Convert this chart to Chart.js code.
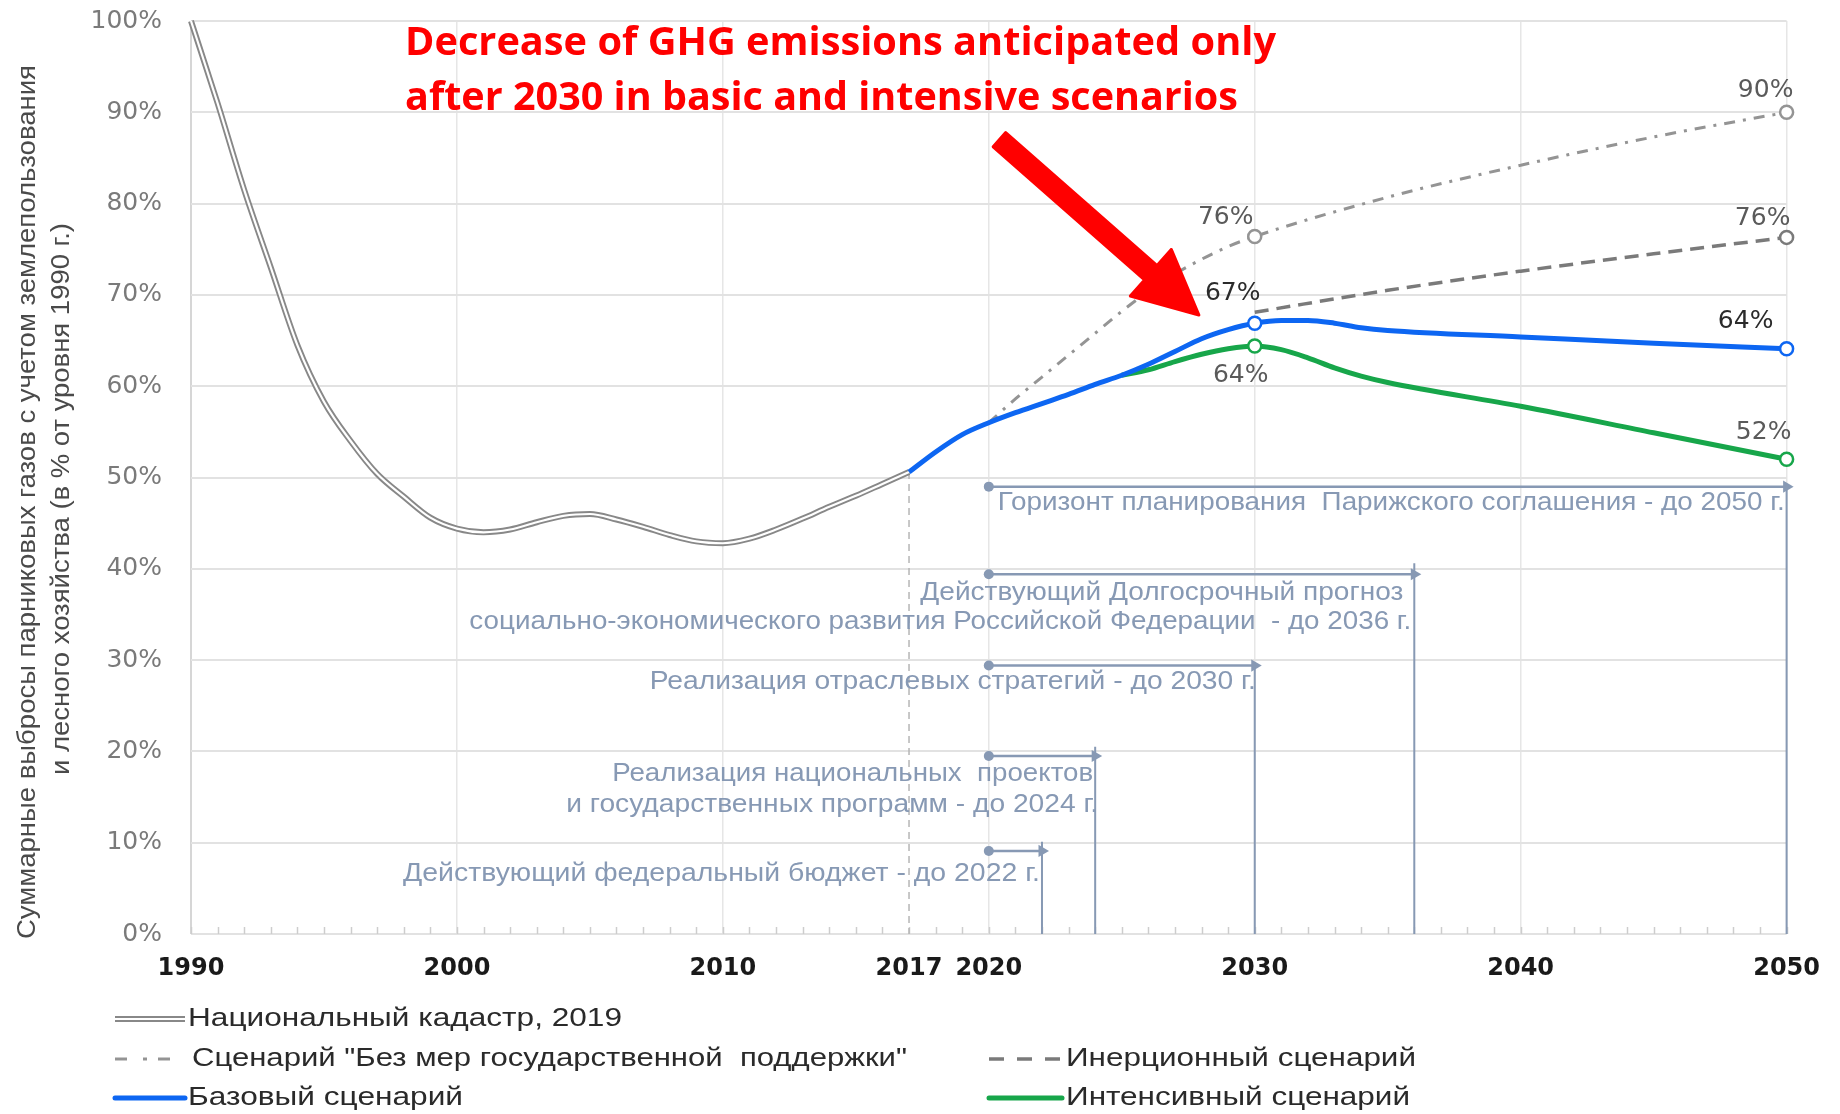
<!DOCTYPE html>
<html lang="ru">
<head>
<meta charset="utf-8">
<title>Суммарные выбросы парниковых газов</title>
<script src="https://cdn.jsdelivr.net/npm/chart.js@4.4.1/dist/chart.umd.min.js"></script>
<style>
  html, body { margin: 0; padding: 0; background: #fff; }
  #grafico { display: block; }
</style>
</head>
<body>
<canvas id="grafico" width="1840" height="1114"></canvas>
<script>
/* Values, % of the 1990 level */

const xTickValues = [1990, 2000, 2010, 2017, 2020, 2030, 2040, 2050];

const cadastreYears = [1990, 1991, 1992, 1993, 1994, 1995, 1996, 1997, 1998, 1999,
  2000, 2001, 2002, 2003, 2004, 2005, 2006, 2007, 2008, 2009,
  2010, 2011, 2012, 2013, 2014, 2015, 2016, 2017];
const cadastreValues = [100, 91.0, 81.5, 73.0, 64.5, 58.3, 54.0, 50.4, 47.9, 45.6,
  44.4, 44.0, 44.3, 45.1, 45.8, 46.0, 45.4, 44.6, 43.7, 43.0,
  42.8, 43.3, 44.3, 45.5, 46.8, 48.0, 49.3, 50.6];

const basicYears = [2017, 2018, 2019, 2020, 2021, 2022, 2023, 2024, 2025, 2026,
  2027, 2028, 2029, 2030, 2031, 2032, 2033, 2034, 2035, 2040, 2045, 2050];
const basicValues = [50.6, 52.8, 54.7, 56.0, 57.1, 58.1, 59.1, 60.2, 61.2, 62.4,
  63.8, 65.2, 66.2, 66.9, 67.2, 67.2, 66.9, 66.4, 66.1, 65.4, 64.7, 64.1];

const intensiveYears = [2025, 2026, 2027, 2028, 2029, 2030, 2031, 2032, 2033, 2034, 2035, 2040, 2045, 2050];
const intensiveValues = [61.2, 61.8, 62.7, 63.5, 64.1, 64.4, 64.0, 63.1, 62.0, 61.1, 60.4, 57.8, 54.9, 52.0];

const noMeasuresYears = [2020, 2021, 2022, 2023, 2024, 2025, 2026, 2027, 2028, 2029, 2030, 2035, 2040, 2045, 2050];
const noMeasuresValues = [56.0, 58.6, 61.0, 63.4, 65.8, 68.2, 70.4, 72.3, 73.9, 75.3, 76.4, 80.7, 84.2, 87.3, 90.0];

const inertialYears = [2030, 2035, 2040, 2045, 2050];
const inertialValues = [68.1, 70.5, 72.6, 74.5, 76.3];

// years that carry an open circle marker
const basicMarkers = [2030, 2050];
const intensiveMarkers = [2030, 2050];
const noMeasuresMarkers = [2030, 2050];
const inertialMarkers = [2050];

// planning horizons (arrows from 2020)
const horizonStart = 2020;
const horizonEnd = [2050, 2036, 2030, 2024, 2022];
const horizonLevel = [49.0, 39.4, 29.4, 19.5, 9.1];
const horizonTop = [49.0, 40.6, 29.4, 20.5, 10.1];
const horizonTexts = [
  ['Горизонт планирования  Парижского соглашения - до 2050 г.'],
  ['Действующий Долгосрочный прогноз', 'социально-экономического развития Российской Федерации  - до 2036 г.'],
  ['Реализация отраслевых стратегий - до 2030 г.'],
  ['Реализация национальных  проектов', 'и государственных программ - до 2024 г.'],
  ['Действующий федеральный бюджет - до 2022 г.']
];

const seriesNames = {
  cadastre: 'Национальный кадастр, 2019',
  noMeasures: 'Сценарий "Без мер государственной  поддержки"',
  inertial: 'Инерционный сценарий',
  basic: 'Базовый сценарий',
  intensive: 'Интенсивный сценарий'
};

const yTitle = ['Суммарные выбросы парниковых газов с учетом землепользования',
  'и лесного хозяйства (в % от уровня 1990 г.)'];
const headline = ['Decrease of GHG emissions anticipated only', 'after 2030 in basic and intensive scenarios'];

/* ------------------------------------------------------------------
   Styles
   ------------------------------------------------------------------ */
const BLUE = '#0d66f2', GREEN = '#17a64a', DASHDOT = '#949494', DASHED = '#7a7a7a';
const CADASTRE = '#888888', SLATE = '#8799b4', GRID = '#e2e2e2';
const DASHDOT_PATTERN = [11, 8, 3, 8], DASH_PATTERN = [14, 8];

function points(years, values) { return years.map((y, i) => ({ x: y, y: values[i] })); }
const markerRadius = marks => ctx => (ctx.raw && marks.includes(ctx.raw.x)) ? 6.5 : 0;

function scenario(key, years, values, marks, color, width, dash, order) {
  return {
    key, label: seriesNames[key], data: points(years, values),
    borderColor: color, borderWidth: width, borderDash: dash || [],
    cubicInterpolationMode: 'monotone', clip: false, order,
    pointRadius: markerRadius(marks), pointHoverRadius: 0,
    pointBackgroundColor: '#fff', pointBorderColor: color, pointBorderWidth: 2.5
  };
}

const datasets = [
  scenario('basic', basicYears, basicValues, basicMarkers, BLUE, 5, null, 1),
  scenario('intensive', intensiveYears, intensiveValues, intensiveMarkers, GREEN, 5, null, 2),
  scenario('inertial', inertialYears, inertialValues, inertialMarkers, DASHED, 3.5, DASH_PATTERN, 3),
  scenario('noMeasures', noMeasuresYears, noMeasuresValues, noMeasuresMarkers, DASHDOT, 3, DASHDOT_PATTERN, 4),
  // cadastre: gray band with a white core (double line)
  { key: 'cadastreCore', data: points(cadastreYears, cadastreValues), borderColor: '#fff', borderWidth: 2.2,
    cubicInterpolationMode: 'monotone', pointRadius: 0, clip: false, order: 5 },
  { key: 'cadastre', data: points(cadastreYears, cadastreValues), borderColor: CADASTRE, borderWidth: 6,
    cubicInterpolationMode: 'monotone', pointRadius: 0, clip: false, order: 6 },
  // 2017 divider
  { key: 'div2017', data: [{ x: 2017, y: cadastreValues[cadastreValues.length - 1] }, { x: 2017, y: 0 }],
    borderColor: '#b5b5b5', borderWidth: 1.5, borderDash: [7, 5], pointRadius: 0, order: 30 }
];

horizonEnd.forEach((end, i) => {
  datasets.push({
    key: 'arrow' + i, data: [{ x: horizonStart, y: horizonLevel[i] }, { x: end, y: horizonLevel[i] }],
    borderColor: SLATE, borderWidth: 2.5, clip: false, order: 10 + i,
    pointStyle: ['circle', 'triangle'], pointRadius: [5, 7], pointRotation: [0, 90],
    pointBackgroundColor: SLATE, pointBorderColor: SLATE, pointBorderWidth: 0, pointHoverRadius: 0
  });
  datasets.push({
    key: 'drop' + i, data: [{ x: end, y: horizonTop[i] }, { x: end, y: 0 }],
    borderColor: SLATE, borderWidth: 2, pointRadius: 0, clip: false, order: 20 + i
  });
});

/* ------------------------------------------------------------------
   Text helpers: draw text squeezed/stretched to a given width
   ------------------------------------------------------------------ */
function fitText(ctx, text, x, y, width, align) {
  const natural = ctx.measureText(text).width;
  ctx.save();
  ctx.translate(x, y);
  ctx.scale(width / natural, 1);
  ctx.textAlign = align || 'left';
  ctx.fillText(text, 0, 0);
  ctx.restore();
}

function line(ctx, x1, y1, x2, y2) { ctx.beginPath(); ctx.moveTo(x1, y1); ctx.lineTo(x2, y2); ctx.stroke(); }

function legendSample(ctx, kind, x1, x2, y) {
  ctx.save();
  if (kind === 'cadastre') {
    ctx.strokeStyle = CADASTRE; ctx.lineWidth = 6; line(ctx, x1, y, x2, y);
    ctx.strokeStyle = '#fff'; ctx.lineWidth = 2.2; line(ctx, x1, y, x2, y);
  } else if (kind === 'noMeasures') {
    ctx.strokeStyle = DASHDOT; ctx.lineWidth = 3;
    [[0, 12], [28, 32], [43, 55]].forEach(s => line(ctx, x1 + s[0], y, x1 + s[1], y));
  } else if (kind === 'inertial') {
    ctx.strokeStyle = DASHED; ctx.lineWidth = 3.5;
    [[0, 15], [28, 43], [56, 71]].forEach(s => line(ctx, x1 + s[0], y, x1 + s[1], y));
  } else {
    ctx.strokeStyle = kind === 'basic' ? BLUE : GREEN; ctx.lineWidth = 5; ctx.lineCap = 'round';
    line(ctx, x1, y, x2, y);
  }
  ctx.restore();
}

// value labels next to the markers (offsets in px)
const valueLabels = [
  { series: 'noMeasures', year: 2030, dx: -29, dy: -19, color: '#5a5a5a' },
  { series: 'noMeasures', year: 2050, dx: -21, dy: -22, color: '#5a5a5a' },
  { series: 'inertial', year: 2050, dx: -24, dy: -19, color: '#5a5a5a' },
  { series: 'basic', year: 2030, dx: -22, dy: -30, color: '#2b2b2b' },
  { series: 'basic', year: 2050, dx: -41, dy: -27, color: '#2b2b2b' },
  { series: 'intensive', year: 2030, dx: -14, dy: 29, color: '#5a5a5a' },
  { series: 'intensive', year: 2050, dx: -23, dy: -27, color: '#5a5a5a' }
];

// horizon captions: anchor at arrow start or end, offsets and target width in px
const horizonLayout = [
  [{ at: 'start', align: 'left', dx: 9, dy: 16, w: 787 }],
  [{ at: 'end', align: 'right', dx: -11, dy: 19, w: 483 }, { at: 'end', align: 'right', dx: -3, dy: 48, w: 942 }],
  [{ at: 'end', align: 'right', dx: 1, dy: 17, w: 606 }],
  [{ at: 'end', align: 'right', dx: -2, dy: 18, w: 481 }, { at: 'end', align: 'right', dx: 3, dy: 49, w: 532 }],
  [{ at: 'end', align: 'right', dx: -2, dy: 23, w: 637 }]
];

const decor = {
  id: 'decor',
  beforeDatasetsDraw(chart) {
    const { ctx, chartArea: a, scales: { x } } = chart;
    ctx.save();
    ctx.strokeStyle = '#cdcdcd'; ctx.lineWidth = 1.5;
    for (let yr = 1990; yr <= 2050; yr++) {
      const px = Math.round(x.getPixelForValue(yr)) + 0.5;
      line(ctx, px, a.bottom, px, a.bottom - 7);
    }
    ctx.restore();
  },
  afterDatasetsDraw(chart) {
    const { ctx, scales: { x, y } } = chart;
    ctx.save();
    // value labels
    ctx.font = '25px "DejaVu Sans"';
    ctx.textAlign = 'center'; ctx.textBaseline = 'middle';
    valueLabels.forEach(l => {
      const di = chart.data.datasets.findIndex(d => d.key === l.series);
      const ds = chart.data.datasets[di];
      const pi = ds.data.findIndex(p => p.x === l.year);
      const el = chart.getDatasetMeta(di).data[pi];
      ctx.fillStyle = l.color;
      ctx.fillText(Math.round(ds.data[pi].y) + '%', el.x + l.dx, el.y + l.dy);
    });
    // horizon captions
    ctx.font = '25px "Liberation Sans"';
    ctx.fillStyle = SLATE;
    horizonTexts.forEach((lines, i) => {
      const py = y.getPixelForValue(horizonLevel[i]);
      lines.forEach((t, j) => {
        const lay = horizonLayout[i][j];
        const ax = x.getPixelForValue(lay.at === 'start' ? horizonStart : horizonEnd[i]);
        fitText(ctx, t, ax + lay.dx, py + lay.dy, lay.w, lay.align);
      });
    });
    ctx.restore();
  },
  afterDraw(chart) {
    const { ctx, scales: { x, y } } = chart;
    ctx.save();
    ctx.textBaseline = 'middle';

    // y axis title (two rotated lines)
    ctx.font = '25px "Liberation Sans"';
    ctx.fillStyle = '#4a4a4a';
    [[28, 502, 874], [62, 499, 552]].forEach((p, i) => {
      ctx.save();
      ctx.translate(p[0], p[1]);
      ctx.rotate(-Math.PI / 2);
      fitText(ctx, yTitle[i], 0, 0, p[2], 'center');
      ctx.restore();
    });

    // legend
    ctx.font = '25px "Liberation Sans"';
    ctx.fillStyle = '#2a2a2a';
    const rows = [
      [['cadastre', 115, 185, 188, 1019, 434]],
      [['noMeasures', 115, 170, 192, 1059, 715], ['inertial', 989, 1060, 1066, 1059, 350]],
      [['basic', 115, 185, 188, 1098, 275], ['intensive', 989, 1062, 1066, 1098, 344]]
    ];
    rows.forEach(r => r.forEach(([k, s1, s2, tx, ty, tw]) => {
      legendSample(ctx, k, s1, s2, ty);
      fitText(ctx, seriesNames[k], tx, ty, tw, 'left');
    }));

    // red headline
    ctx.textBaseline = 'alphabetic';
    ctx.font = 'bold 39px "Open Sans"';
    ctx.fillStyle = '#ff0000';
    fitText(ctx, headline[0], 405, 55, 871, 'left');
    fitText(ctx, headline[1], 405, 110, 833, 'left');

    // red arrow pointing to the 2030 peak
    const x0 = x.getPixelForValue(2020.4), y0 = y.getPixelForValue(87.0);
    const x1 = x.getPixelForValue(2027.9), y1 = y.getPixelForValue(67.8);
    const dx = x1 - x0, dy = y1 - y0, len = Math.hypot(dx, dy);
    const ux = dx / len, uy = dy / len, nx = -uy, ny = ux;
    const head = 64, hw = 31, sw = 9.5;
    const bx = x1 - ux * head, by = y1 - uy * head;
    ctx.beginPath();
    ctx.moveTo(x0 + nx * sw, y0 + ny * sw);
    ctx.lineTo(bx + nx * sw, by + ny * sw);
    ctx.lineTo(bx + nx * hw, by + ny * hw);
    ctx.lineTo(x1, y1);
    ctx.lineTo(bx - nx * hw, by - ny * hw);
    ctx.lineTo(bx - nx * sw, by - ny * sw);
    ctx.lineTo(x0 - nx * sw, y0 - ny * sw);
    ctx.closePath();
    ctx.fillStyle = ctx.strokeStyle = '#ff0000';
    ctx.lineJoin = 'round'; ctx.lineWidth = 3;
    ctx.fill(); ctx.stroke();
    ctx.restore();
  }
};

new Chart(document.getElementById('grafico'), {
  type: 'line',
  data: { datasets },
  options: {
    responsive: false, animation: false,
    layout: { padding: { left: 0, top: 21, right: 50, bottom: 120 } },
    plugins: { legend: { display: false }, tooltip: { enabled: false } },
    elements: { line: { tension: 0 } },
    scales: {
      x: {
        type: 'linear', min: 1990, max: 2050,
        afterBuildTicks: s => { s.ticks = xTickValues.map(v => ({ value: v })); },
        afterFit: s => { s.height = 60; },
        border: { display: false },
        grid: {
          drawTicks: false,
          color: c => c.tick && c.tick.value === 2017 ? 'rgba(0,0,0,0)' : (c.tick && c.tick.value === 1990 ? '#d6d6d6' : '#e6e6e6'),
          lineWidth: c => c.tick && c.tick.value === 1990 ? 2 : 1.5
        },
        ticks: {
          autoSkip: false, maxRotation: 0, padding: 20,
          font: { family: 'DejaVu Sans', size: 24, weight: 'bold' }, color: '#1a1a1a',
          callback: v => String(v)
        }
      },
      y: {
        min: 0, max: 100,
        afterFit: s => { s.width = 191; },
        border: { display: false },
        // invisible tick marks make the gap between labels and plot
        grid: { drawTicks: true, tickLength: 29, tickColor: 'rgba(0,0,0,0)', color: GRID, lineWidth: 2 },
        ticks: {
          stepSize: 10, padding: 0,
          font: { family: 'DejaVu Sans', size: 25 }, color: '#7a7a7a',
          callback: v => v + '%'
        }
      }
    }
  },
  plugins: [decor]
});
</script>
</body>
</html>
